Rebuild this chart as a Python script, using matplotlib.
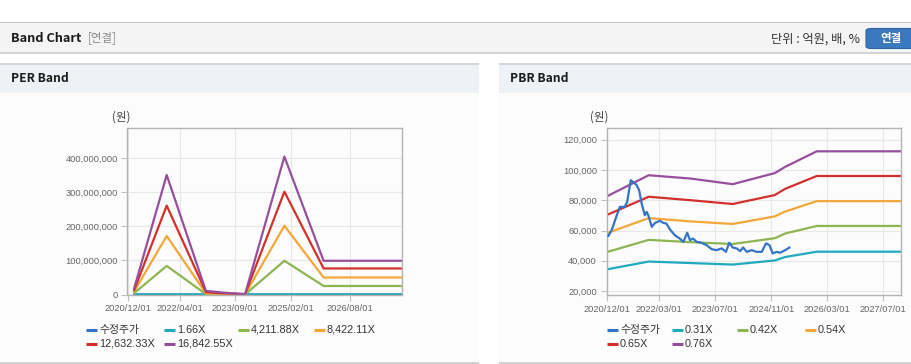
import matplotlib
matplotlib.use('Agg')
import matplotlib.pyplot as plt
import matplotlib.dates as mdates
from matplotlib.patches import Rectangle, FancyBboxPatch
from matplotlib.lines import Line2D
from matplotlib.ticker import FuncFormatter, MultipleLocator
import pandas as pd

plt.rcParams['font.family'] = ['Liberation Sans', 'Noto Sans CJK KR', 'DejaVu Sans']

W, H = 912, 364

# ---- PER band (원) ----
per_dates = pd.to_datetime(['2021-02-01', '2021-12-01', '2022-12-01', '2023-06-01',
                            '2023-12-01', '2024-12-01', '2025-12-01', '2027-12-01'])
per_price = [57000, 66000, 52000, 47000, 48000, 46000, 49000, 49000]
per_b1 = [1600, 33000, 400, 200, 100, 39000, 10000, 10000]
per_b2 = [4e6, 84e6, 1e6, 0.5e6, 0.3e6, 99e6, 25e6, 25e6]
per_b3 = [9e6, 172e6, 3.5e6, 1.5e6, 0.6e6, 202e6, 50e6, 50e6]
per_b4 = [13e6, 261e6, 7e6, 3e6, 0.9e6, 302e6, 76.5e6, 76.5e6]
per_b5 = [18e6, 351e6, 10.5e6, 5e6, 1.2e6, 405e6, 99e6, 99e6]
per_labels = ['수정주가', '1.66X', '4,211.88X', '8,422.11X', '12,632.33X', '16,842.55X']
per_ticks = ['2020-12-01', '2022-04-01', '2023-09-01', '2025-02-01', '2026-08-01']

# ---- PBR band (원) ----
pbr_dates = pd.to_datetime(['2020-12-01', '2021-12-01', '2022-12-01', '2023-12-01',
                            '2024-12-01', '2025-03-01', '2025-12-01', '2027-12-06'])
pbr_b1 = [34300, 39500, 38500, 37500, 40200, 42500, 46000, 46000]
pbr_b2 = [45700, 53800, 52300, 51100, 54900, 58000, 63000, 63000]
pbr_b3 = [58200, 68200, 66000, 64300, 69300, 72500, 79400, 79400]
pbr_b4 = [70200, 82300, 80000, 77500, 83400, 87500, 96000, 96000]
pbr_b5 = [82500, 96500, 94300, 90600, 97900, 102000, 112300, 112300]
price_dates = pd.to_datetime([
    '2020-12-16', '2021-01-13', '2021-02-22', '2021-03-25', '2021-05-07', '2021-05-28',
    '2021-06-28', '2021-07-19', '2021-08-19', '2021-09-09', '2021-10-01', '2021-10-28',
    '2021-11-13', '2021-11-28', '2021-12-28', '2022-01-25', '2022-03-08', '2022-04-07',
    '2022-05-04', '2022-06-04', '2022-07-16', '2022-08-28', '2022-09-28', '2022-11-01',
    '2022-11-25', '2022-12-22', '2023-01-22', '2023-03-04', '2023-04-19', '2023-06-01',
    '2023-07-13', '2023-08-28', '2023-10-04', '2023-11-01', '2023-12-01', '2024-01-04',
    '2024-02-04', '2024-03-01', '2024-04-01', '2024-05-13', '2024-06-28', '2024-08-10',
    '2024-09-16', '2024-10-16', '2024-11-13', '2024-12-19', '2025-01-16', '2025-03-01',
    '2025-04-07'])
price_vals = [
    56500, 60200, 69000, 75600, 75600, 78900,
    93200, 92000, 89900, 86600, 77800, 70100,
    72300, 70000, 62400, 65000, 66400, 65000,
    64600, 60700, 56900, 54700, 52500, 58500,
    53600, 54700, 52500, 51900, 50300, 47700,
    47000, 48200, 45900, 51900, 48800, 48200,
    46400, 48800, 45900, 47000, 45900, 45900,
    51500, 50300, 44900, 45900, 45300, 47000,
    48700]
pbr_labels = ['수정주가', '0.31X', '0.42X', '0.54X', '0.65X', '0.76X']
pbr_ticks = ['2020-12-01', '2022-03-01', '2023-07-01', '2024-11-01', '2026-03-01', '2027-07-01']

colors = ['#3474c4', '#1eaabf', '#8db651', '#f3a73a', '#d2302b', '#974f9d']


def fx(x):
    return x / W


def fy(y):
    return 1 - y / H


def rect(fig, x0, y0, x1, y1, color):
    fig.patches.append(Rectangle((fx(x0), fy(y1)), fx(x1) - fx(x0), fy(y0) - fy(y1),
                                 transform=fig.transFigure, facecolor=color,
                                 edgecolor='none', zorder=-5))


fig = plt.figure(figsize=(W / 100, H / 100), dpi=100)
fig.patch.set_facecolor('white')

# page header
rect(fig, 0, 21.5, W, 23, '#c4c4c4')
rect(fig, 0, 23, W, 52, '#f4f4f4')
rect(fig, 0, 52, W, 54, '#d4d4d4')
fig.text(fx(11), fy(38), 'Band Chart', fontsize=9.2, fontweight='bold', color='#1a1a1a',
         family=['Noto Sans CJK KR'], va='center')
fig.text(fx(88), fy(38), '[연결]', fontsize=8.3, color='#8a8a8a',
         family=['Noto Sans CJK KR'], va='center')
fig.text(fx(860), fy(39), '단위 : 억원, 배, %', fontsize=8.8, color='#333333',
         family=['Noto Sans CJK KR'], va='center', ha='right')
fig.patches.append(FancyBboxPatch((fx(866), fy(48.5)), fx(60), fy(0) - fy(20),
                                  boxstyle='round,pad=0,rounding_size=0.006',
                                  transform=fig.transFigure, facecolor='#3a79bd',
                                  edgecolor='#2d64a2', lw=0.8, zorder=-4))
fig.text(fx(891), fy(38.5), '연결', fontsize=8.3, fontweight='bold', color='white',
         family=['Noto Sans CJK KR'], va='center', ha='center')

# panels
for x0, x1, title in [(0, 479, 'PER Band'), (499, W, 'PBR Band')]:
    rect(fig, x0, 63, x1, 65, '#d6d6d6')
    rect(fig, x0, 65, x1, 93, '#eef1f5')
    rect(fig, x0, 93, x1, 362, '#fcfcfc')
    rect(fig, x0, 362, x1, 364, '#d2d2d2')
    fig.text(fx(x0 + 11), fy(79), title, fontsize=8.7, fontweight='bold', color='#1a1a1a',
             family=['Noto Sans CJK KR'], va='center')


def style_axes(ax, ticks):
    ax.set_facecolor('none')
    for s in ax.spines.values():
        s.set_color('#b4b4b4')
        s.set_linewidth(1)
    ax.grid(True, color='#e8e8e8', lw=0.8)
    ax.set_axisbelow(True)
    ax.set_xticks(pd.to_datetime(ticks))
    ax.xaxis.set_major_formatter(mdates.DateFormatter('%Y/%m/%d'))
    ax.yaxis.set_major_formatter(FuncFormatter(lambda v, p: f'{v:,.0f}'))
    ax.tick_params(axis='both', length=4, width=0.8, color='#c0c0c0',
                   labelsize=6.7, labelcolor='#666666', pad=3)


def legend(fig, xs, labels):
    for i, lab in enumerate(labels):
        x = xs[i % 4]
        y = 330 if i < 4 else 344
        fig.add_artist(Line2D([fx(x), fx(x + 11)], [fy(y), fy(y)], transform=fig.transFigure,
                              color=colors[i], lw=2.2, solid_capstyle='butt'))
        fig.text(fx(x + 13), fy(y), lab, fontsize=7.8, color='#333333', va='center')


# PER chart
ax1 = fig.add_axes([fx(127.5), fy(294.5), (402 - 127.5) / W, (294.5 - 128) / H])
for vals, c in zip([per_price, per_b1, per_b2, per_b3, per_b4, per_b5], colors):
    ax1.plot(per_dates, vals, color=c, lw=1.6)
ax1.set_xlim(pd.Timestamp('2020-12-01'), pd.Timestamp('2027-12-01'))
ax1.set_ylim(0, 489e6)
ax1.yaxis.set_major_locator(MultipleLocator(100e6))
style_axes(ax1, per_ticks)
fig.text(fx(112), fy(117), '(원)', fontsize=8.3, color='#444444',
         family=['Noto Sans CJK KR'], va='center')
legend(fig, [86, 164, 238, 314], per_labels)

# PBR chart
ax2 = fig.add_axes([fx(606.7), fy(295), (901.3 - 606.7) / W, (295 - 128.3) / H])
for vals, c in zip([pbr_b1, pbr_b2, pbr_b3, pbr_b4, pbr_b5], colors[1:]):
    ax2.plot(pbr_dates, vals, color=c, lw=1.6)
ax2.plot(price_dates, price_vals, color=colors[0], lw=1.6, zorder=3)
ax2.set_xlim(pd.Timestamp('2020-12-01'), pd.Timestamp('2027-12-06'))
ax2.set_ylim(17400, 127500)
ax2.yaxis.set_major_locator(MultipleLocator(20000))
style_axes(ax2, pbr_ticks)
fig.text(fx(590), fy(117), '(원)', fontsize=8.3, color='#444444',
         family=['Noto Sans CJK KR'], va='center')
legend(fig, [607, 672, 737, 805], pbr_labels)

fig.savefig('out.png', dpi=100)
